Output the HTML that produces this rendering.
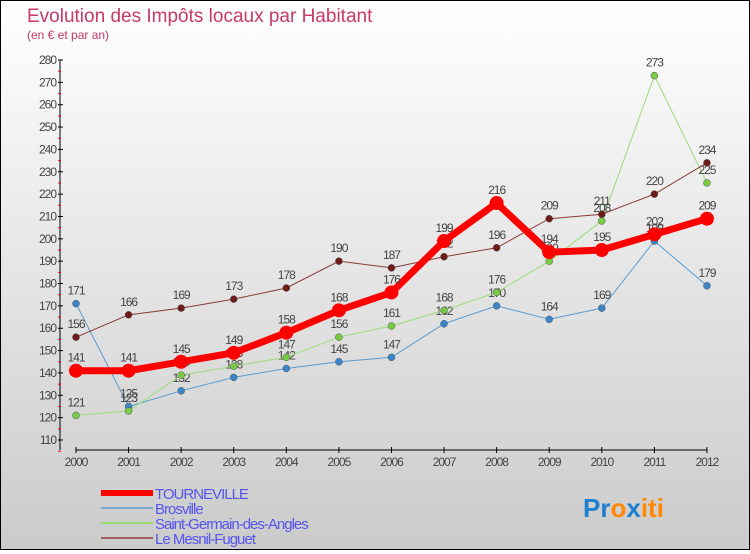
<!DOCTYPE html>
<html><head><meta charset="utf-8"><style>
body{margin:0}
#c{width:748px;height:548px;border:1px solid #000;background:linear-gradient(#fff,#cbcbcb);position:relative;font-family:"Liberation Sans",sans-serif}
</style></head><body>
<div id="c">
<svg id="s" width="748" height="548"></svg>
</div>
<script>
const years=[2000,2001,2002,2003,2004,2005,2006,2007,2008,2009,2010,2011,2012];
const tourneville=[141,141,145,149,158,168,176,199,216,194,195,202,209];
const brosville=[171,125,132,138,142,145,147,162,170,164,169,199,179];
const stGermain=[121,123,139,143,147,156,161,168,176,190,208,273,225];
const mesnil=[156,166,169,173,178,190,187,192,196,209,211,220,234];
const yTicks=[110,120,130,140,150,160,170,180,190,200,210,220,230,240,250,260,270,280];
const NS='http://www.w3.org/2000/svg';
const s=document.getElementById('s');
const X=i=>75+i*52.58, Y=v=>439-(v-110)*(380/170);
function el(t,a,p){const e=document.createElementNS(NS,t);for(const k in a)e.setAttribute(k,a[k]);(p||s).appendChild(e);return e;}
function tx(x,y,str,a){const e=el('text',Object.assign({x:x,y:y},a));e.textContent=str;return e;}
let t=tx(26,21,'Evolution des Impôts locaux par Habitant',{fill:'#c8386a','font-size':19});

t=tx(26,38,'(en € et par an)',{fill:'#c8386a','font-size':12});

const ax=el('g',{});
el('line',{x1:59,y1:59,x2:59,y2:449,stroke:'#000'},ax);
yTicks.forEach(v=>{const y=Y(v);el('line',{x1:57,y1:y,x2:62,y2:y,stroke:'#000'},ax);
 el('line',{x1:57,y1:y+11.2,x2:60,y2:y+11.2,stroke:'#f00'},ax);
 tx(55,y+4,v,{'text-anchor':'end','font-size':12,fill:'#444','letter-spacing':'-1'},ax);});
const xa=el('g',{});
el('line',{x1:75,y1:449,x2:706,y2:449,stroke:'#000'},xa);
years.forEach((yr,i)=>{el('line',{x1:X(i),y1:446,x2:X(i),y2:452,stroke:'#000'},xa);
 tx(X(i),465,yr,{'text-anchor':'middle','font-size':12,fill:'#444','letter-spacing':'-1'},xa);});
const series=[
 {n:'brosville',d:brosville,c:'#5b9bd0',f:'#3a86c8',w:1,r:3.5},
 {n:'saint-germain',d:stGermain,c:'#99dd77',f:'#77cc44',w:1,r:3.5},
 {n:'le-mesnil-fuguet',d:mesnil,c:'#8a3a3a',f:'#6e1a1a',w:1,r:3.5},
 {n:'tourneville',d:tourneville,c:'#f00',f:'#f00',w:7,r:7}];
series.forEach(S=>{const g=el('g',{});
 el('polyline',{points:S.d.map((v,i)=>X(i)+','+Y(v)).join(' '),fill:'none',stroke:S.c,'stroke-width':S.w},g);
 S.d.forEach((v,i)=>{const p=el('circle',{cx:X(i),cy:Y(v),r:S.r,fill:S.f,stroke:S.w>1?'none':'#555','stroke-width':0.5},g);
  
  tx(X(i),Y(v)-9,v,{'text-anchor':'middle','font-size':12,fill:'#444','letter-spacing':'-1'},g);});});
const lg=el('g',{});
const L=[['TOURNEVILLE','#f00',6],['Brosville','#7aaad0',2],['Saint-Germain-des-Angles','#99dd77',2],['Le Mesnil-Fuguet','#a06060',2]];
L.forEach((l,i)=>{const y=492+i*15;const e=el('g',{},lg);
 el('line',{x1:100,y1:y,x2:152,y2:y,stroke:l[1],'stroke-width':l[2]},e);
 tx(154,y+6,l[0],{'font-size':15,fill:'#5555ee','letter-spacing':'-1'},e);});
const lo=el('text',{x:582,y:516,'font-size':26,'font-weight':'bold'});
[['Pr','#1e7fd0'],['o','#ff8800'],['x','#1e7fd0'],['iti','#ff8800']].forEach(p=>{const ts=el('tspan',{fill:p[1]},lo);ts.textContent=p[0];});
</script>
</body></html>
